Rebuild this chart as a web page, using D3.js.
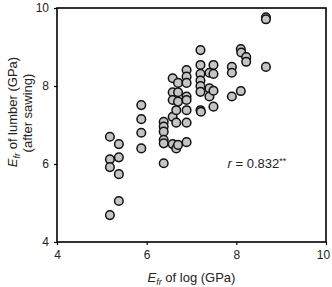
<!DOCTYPE html>
<html>
<head>
<meta charset="utf-8">
<script src="https://cdn.jsdelivr.net/npm/d3@7"></script>
<style>
  html, body { margin: 0; padding: 0; background: #fff; }
  svg { display: block; font-family: "Liberation Sans", Arial, sans-serif; }
</style>
</head>
<body>
<div id="chart"></div>
<script>
// E_fr of log (x) vs E_fr of lumber after sawing (y), GPa
const logE = [
  5.18, 5.38, 5.18, 5.38, 5.18, 5.38, 5.38, 5.18,
  5.88, 5.88, 5.88, 5.88,
  6.38, 6.38, 6.38, 6.38, 6.38, 6.38,
  6.58, 6.58, 6.58, 6.58, 6.58, 6.66, 6.66, 6.66,
  6.70, 6.70, 6.70, 6.70,
  6.89, 6.89, 6.89, 6.89, 6.89, 6.89, 6.89, 6.89,
  7.20, 7.20, 7.20, 7.20, 7.20, 7.20, 7.20, 7.21,
  7.40, 7.40, 7.40,
  7.49, 7.49, 7.49, 7.49,
  7.90, 7.90, 7.90,
  8.10, 8.11, 8.10,
  8.22, 8.22,
  8.66, 8.66, 8.66
];
const lumberE = [
  6.70, 6.51, 6.12, 6.17, 5.92, 5.74, 5.05, 4.69,
  7.51, 7.15, 6.80, 6.40,
  7.08, 6.96, 6.83, 6.62, 6.53, 6.02,
  8.20, 7.84, 7.64, 7.21, 6.51, 7.38, 7.06, 6.40,
  8.08, 7.84, 7.60, 6.49,
  8.41, 8.24, 8.08, 7.73, 7.64, 7.38, 7.06, 6.56,
  8.92, 8.54, 8.31, 8.14, 8.00, 7.85, 7.38, 7.34,
  8.34, 7.94, 7.73,
  8.54, 8.31, 7.88, 7.47,
  8.49, 8.34, 7.73,
  8.95, 8.86, 7.87,
  8.74, 8.62,
  9.76, 9.71, 8.49
];
const xTicks = [4, 6, 8, 10];
const yTicks = [4, 6, 8, 10];

const W = 332, H = 287;
const margin = { top: 8, right: 6, bottom: 45, left: 57 };
const width = W - margin.left - margin.right;
const height = H - margin.top - margin.bottom;

const svg = d3.select("#chart").append("svg")
  .attr("width", W)
  .attr("height", H);

const g = svg.append("g")
  .attr("transform", `translate(${margin.left},${margin.top})`);

const x = d3.scaleLinear().domain([4, 10]).range([0, width]);
const y = d3.scaleLinear().domain([4, 10]).range([height, 0]);

// axes
const xAxis = g.append("g")
  .attr("transform", `translate(0,${height})`)
  .call(d3.axisBottom(x).tickValues(xTicks).tickSize(3).tickPadding(5).tickFormat(d3.format("d")));
const yAxis = g.append("g")
  .call(d3.axisLeft(y).tickValues(yTicks).tickSize(3).tickPadding(5).tickFormat(d3.format("d")));

[xAxis, yAxis].forEach(a => {
  a.select(".domain").remove();
  a.selectAll("line").attr("stroke", "#000").attr("stroke-width", 1.2);
  a.selectAll("text").attr("font-size", 12).attr("fill", "#222")
    .attr("font-family", "'Liberation Sans', Arial, sans-serif");
});
// keep the last x label inside the window
xAxis.selectAll(".tick text").filter(d => d === 10).attr("dx", -3);

// frame
g.append("rect")
  .attr("width", width)
  .attr("height", height)
  .attr("fill", "none")
  .attr("stroke", "#000")
  .attr("stroke-width", 1.6);

// points
const pts = logE.map((v, i) => ({ x: v, y: lumberE[i] }));
g.append("g").selectAll("circle")
  .data(pts)
  .enter()
  .append("circle")
    .attr("cx", d => x(d.x))
    .attr("cy", d => y(d.y))
    .attr("r", 4.3)
    .attr("fill", "#c4c4c4")
    .attr("stroke", "#111")
    .attr("stroke-width", 1.5);

// correlation note
const note = g.append("text")
  .attr("x", x(8.46))
  .attr("y", y(5.9))
  .attr("text-anchor", "middle")
  .attr("font-size", 13)
  .attr("fill", "#222");
note.append("tspan").attr("font-style", "italic").text("r");
note.append("tspan").text(" = 0.832");
note.append("tspan").attr("font-size", 9).attr("dy", -4).text("**");

// x title
const xt = svg.append("text")
  .attr("x", margin.left + width / 2)
  .attr("y", 282)
  .attr("text-anchor", "middle")
  .attr("font-size", 13)
  .attr("fill", "#222");
xt.append("tspan").attr("font-style", "italic").text("E");
xt.append("tspan").attr("font-style", "italic").attr("font-size", 9).attr("dy", 3).text("fr");
xt.append("tspan").attr("dy", -3).text(" of log (GPa)");

// y title, two lines
const yt = svg.append("text")
  .attr("transform", `translate(17,112) rotate(-90)`)
  .attr("text-anchor", "middle")
  .attr("font-size", 13)
  .attr("fill", "#222");
yt.append("tspan").attr("font-style", "italic").text("E");
yt.append("tspan").attr("font-style", "italic").attr("font-size", 9).attr("dy", 3).text("fr");
yt.append("tspan").attr("dy", -3).text(" of lumber (GPa)");

svg.append("text")
  .attr("transform", `translate(32,113) rotate(-90)`)
  .attr("text-anchor", "middle")
  .attr("font-size", 13)
  .attr("fill", "#222")
  .text("(after sawing)");
</script>
</body>
</html>
